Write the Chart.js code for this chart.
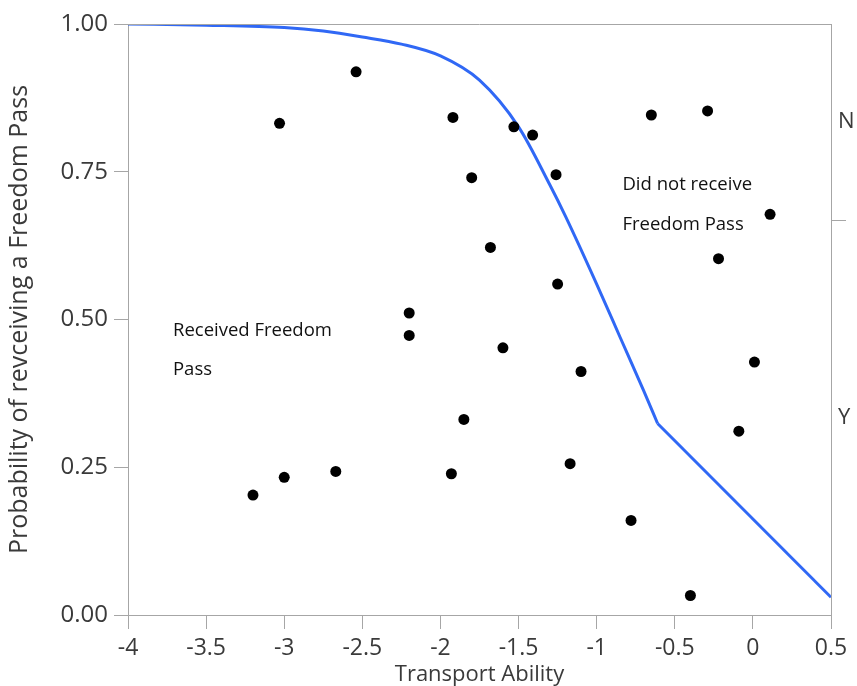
<!DOCTYPE html>
<html>
<head>
<meta charset="utf-8">
<title>Freedom Pass by Transport Ability</title>
<script src="https://cdn.jsdelivr.net/npm/chart.js@4/dist/chart.umd.min.js"></script>
<style>
  html, body { margin: 0; padding: 0; background: #ffffff; }
  #wrap { width: 857px; height: 686px; }
</style>
</head>
<body>
<div id="wrap"><canvas id="chart" width="857" height="686"></canvas></div>
<script>
// Observed respondents: transport ability score and jittered response position
const abilityScore = [-3.20, -3.00, -2.67, -3.03, -2.54, -2.20, -2.20, -1.92, -1.80, -1.68, -1.60, -1.85, -1.93,
                      -1.53, -1.41, -1.26, -1.25, -1.10, -1.17, -0.78, -0.65, -0.29, -0.22, 0.11, 0.01, -0.09, -0.40];
const responsePos  = [0.203, 0.233, 0.243, 0.832, 0.919, 0.511, 0.473, 0.842, 0.740, 0.622, 0.452, 0.331, 0.239,
                      0.826, 0.812, 0.745, 0.560, 0.412, 0.256, 0.160, 0.846, 0.853, 0.603, 0.678, 0.428, 0.311, 0.033];

// Fitted probability curve (smooth part, then the final straight segment)
const fitX = [-4.0, -3.5, -3.0, -2.75, -2.5, -2.25, -2.0, -1.75, -1.5, -1.3, -1.2, -1.0, -0.85, -0.7, -0.61];
const fitY = [1.0, 0.998, 0.994, 0.988, 0.978, 0.966, 0.946, 0.905, 0.826, 0.728, 0.675, 0.56, 0.47, 0.38, 0.324];
const tailX = [-0.61, 0.5];
const tailY = [0.324, 0.03];

// Axis ticks
const probTicks = [0, 0.25, 0.5, 0.75, 1.0];
const abilityTicks = [-4, -3.5, -3, -2.5, -2, -1.5, -1, -0.5, 0, 0.5];

// Response levels on the right axis and share of "Y" responses
const levels = ['Y', 'N'];
const shareY = 0.668;

// In-plot labels: [text, x, y]
const notes = [
  ['Received Freedom', -3.712, 0.472],
  ['Pass', -3.712, 0.406],
  ['Did not receive', -0.835, 0.719],
  ['Freedom Pass', -0.835, 0.651]
];

const AXIS_GRAY = '#a6a6a6';
const TEXT_GRAY = '#3a3a3a';
const FONT = '"Open Sans", "Noto Sans", sans-serif';

const toPts = (xs, ys) => xs.map((x, i) => ({ x: x, y: ys[i] }));

const levelMid = [shareY / 2, shareY + (1 - shareY) / 2];

const framePlugin = {
  id: 'frameAndNotes',
  afterDraw(chart) {
    const { ctx, chartArea: a, scales } = chart;
    ctx.save();
    ctx.strokeStyle = AXIS_GRAY;
    ctx.lineWidth = 1;
    ctx.beginPath();
    ctx.moveTo(a.left, a.top + 0.5);
    ctx.lineTo(a.right, a.top + 0.5);
    ctx.stroke();
    ctx.fillStyle = '#111111';
    ctx.font = '18.5px ' + FONT;
    ctx.textAlign = 'left';
    ctx.textBaseline = 'alphabetic';
    notes.forEach(([t, x, y]) => {
      ctx.fillText(t, scales.x.getPixelForValue(x), scales.y.getPixelForValue(y));
    });
    ctx.restore();
  }
};

new Chart(document.getElementById('chart'), {
  type: 'scatter',
  data: {
    datasets: [
      {
        type: 'line',
        data: toPts(fitX, fitY),
        borderColor: '#3068f5',
        borderWidth: 3,
        pointRadius: 0,
        fill: false,
        cubicInterpolationMode: 'monotone',
        order: 2
      },
      {
        type: 'line',
        data: toPts(tailX, tailY),
        borderColor: '#3068f5',
        borderWidth: 3,
        pointRadius: 0,
        fill: false,
        tension: 0,
        order: 2
      },
      {
        data: toPts(abilityScore, responsePos),
        backgroundColor: '#000000',
        borderWidth: 0,
        pointRadius: 5.5,
        order: 1
      }
    ]
  },
  options: {
    responsive: false,
    animation: false,
    events: [],
    layout: { padding: { top: 24, left: 0, right: 0, bottom: 0 } },
    plugins: { legend: { display: false }, tooltip: { enabled: false } },
    scales: {
      x: {
        type: 'linear',
        position: 'bottom',
        min: -4,
        max: 0.5,
        afterBuildTicks: (s) => { s.ticks = abilityTicks.map(v => ({ value: v })); },
        afterFit: (s) => { s.height = 71; },
        ticks: {
          color: TEXT_GRAY,
          font: { family: FONT, size: 23 },
          padding: 6,
          maxRotation: 0,
          autoSkip: false,
          callback: (v) => String(v)
        },
        grid: { drawOnChartArea: false, drawTicks: true, tickLength: 14, tickColor: AXIS_GRAY },
        border: { display: true, color: AXIS_GRAY, width: 1 },
        title: {
          display: true,
          text: 'Transport Ability',
          color: TEXT_GRAY,
          font: { family: FONT, size: 22 },
          padding: { top: 0, bottom: -2 }
        }
      },
      y: {
        type: 'linear',
        position: 'left',
        min: 0,
        max: 1,
        afterBuildTicks: (s) => { s.ticks = probTicks.map(v => ({ value: v })); },
        afterFit: (s) => { s.width = 128; },
        ticks: {
          color: TEXT_GRAY,
          font: { family: FONT, size: 24 },
          padding: 6,
          callback: (v) => Number(v).toFixed(2)
        },
        grid: { drawOnChartArea: false, drawTicks: true, tickLength: 14, tickColor: AXIS_GRAY },
        border: { display: true, color: AXIS_GRAY, width: 1 },
        title: {
          display: true,
          text: 'Probability of revceiving a Freedom Pass',
          color: TEXT_GRAY,
          font: { family: FONT, size: 25 },
          padding: { top: 5, bottom: 0 }
        }
      },
      levels: {
        type: 'linear',
        position: 'right',
        min: 0,
        max: 1,
        afterBuildTicks: (s) => {
          s.ticks = [{ value: levelMid[0] }, { value: shareY }, { value: levelMid[1] }];
        },
        afterFit: (s) => { s.width = 26; },
        ticks: {
          color: TEXT_GRAY,
          font: { family: FONT, size: 22 },
          padding: -8,
          callback: (v) => {
            if (Math.abs(v - levelMid[0]) < 1e-6) return levels[0];
            if (Math.abs(v - levelMid[1]) < 1e-6) return levels[1];
            return '';
          }
        },
        grid: {
          drawOnChartArea: false,
          drawTicks: true,
          tickLength: 15,
          tickColor: (c) => (c.tick && Math.abs(c.tick.value - shareY) < 1e-6) ? AXIS_GRAY : 'rgba(0,0,0,0)'
        },
        border: { display: true, color: AXIS_GRAY, width: 1 }
      }
    }
  },
  plugins: [framePlugin]
});
</script>
</body>
</html>
